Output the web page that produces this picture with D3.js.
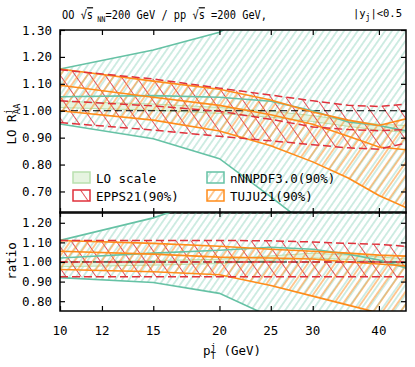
<!DOCTYPE html>
<html><head><meta charset="utf-8">
<script src="https://cdn.jsdelivr.net/npm/d3@7"></script>
<style>
html,body{margin:0;padding:0;background:#fff;}
text{font-family:"DejaVu Sans Mono",monospace;}
</style></head>
<body><svg id="c" width="415" height="367"></svg>
<script>
// ---------- data ----------
const pt = [10, 15, 20, 25, 30, 35, 40, 45];
// top panel: LO R^j_AA
const loUp   = [1.035, 1.025, 1.012, 0.998, 0.982, 0.963, 0.950, 0.945];
const loLo   = [1.012, 1.002, 0.990, 0.976, 0.960, 0.942, 0.928, 0.920];
const eppsUp = [1.152, 1.118, 1.084, 1.058, 1.037, 1.020, 1.016, 1.024];
const eppsC  = [1.037, 1.018, 0.998, 0.968, 0.940, 0.930, 0.926, 0.930];
const eppsLo = [0.956, 0.928, 0.905, 0.888, 0.874, 0.862, 0.857, 0.880];
const nnUp   = [1.155, 1.226, 1.292, 1.400, 1.500, 1.580, 1.650, 1.700];
const nnC    = [1.052, 1.056, 1.050, 1.035, 1.000, 0.958, 0.945, 0.925];
const nnLo   = [0.951, 0.896, 0.822, 0.680, 0.560, 0.450, 0.370, 0.320];
const tujuUp = [1.155, 1.110, 1.080, 1.040, 0.995, 0.965, 0.945, 0.970];
const tujuC  = [1.095, 1.050, 1.020, 0.985, 0.950, 0.905, 0.865, 0.855];
const tujuLo = [1.000, 0.965, 0.925, 0.870, 0.810, 0.750, 0.685, 0.640];
// bottom panel: ratio
const rLoUp   = [1.000, 1.007, 1.014, 1.031, 1.045, 1.035, 1.026, 1.016];
const rLoLo   = [0.976, 0.984, 0.992, 1.008, 1.021, 1.013, 1.002, 0.989];
const rEppsUp = [1.110, 1.110, 1.110, 1.108, 1.102, 1.095, 1.090, 1.080];
const rEppsC  = [1.000, 1.000, 1.000, 1.000, 1.000, 1.000, 1.000, 1.000];
const rEppsLo = [0.925, 0.925, 0.925, 0.925, 0.925, 0.925, 0.925, 0.925];
const rNnUp   = [1.110, 1.225, 1.340, 1.450, 1.600, 1.700, 1.780, 1.830];
const rNnC    = [1.020, 1.045, 1.060, 1.075, 1.065, 1.040, 1.010, 0.970];
const rNnLo   = [0.920, 0.895, 0.840, 0.720, 0.600, 0.500, 0.420, 0.360];
const rTujuUp = [1.110, 1.095, 1.080, 1.065, 1.055, 1.045, 1.035, 1.030];
const rTujuC  = [1.055, 1.040, 1.025, 1.020, 1.015, 1.000, 0.990, 0.980];
const rTujuLo = [0.962, 0.950, 0.935, 0.880, 0.826, 0.780, 0.740, 0.690];

const xTicks = [10, 12, 15, 20, 25, 30, 40];
const yTicksTop = [0.70, 0.80, 0.90, 1.00, 1.10, 1.20, 1.30];
const yTicksBot = [0.80, 0.90, 1.00, 1.10, 1.20];
const legendItems = ["LO scale", "EPPS21(90%)", "nNNPDF3.0(90%)", "TUJU21(90%)"];

// ---------- setup ----------
const C = {teal:"#66c2a5", red:"#e0313b", orange:"#ff8c1a", lo:"#e6f4e0", loS:"#b9e0ae"};
const svg = d3.select("#c");
const X0 = 60, X1 = 406;
const x = d3.scaleLog().domain([10, 45]).range([X0, X1]);
const yT = d3.scaleLinear().domain([0.62, 1.30]).range([213, 30]);
const yB = d3.scaleLinear().domain([0.75, 1.255]).range([311, 212]);

const defs = svg.append("defs");
function hatch(id, color, spacing, angle, sw, op) {
  const p = defs.append("pattern").attr("id", id).attr("patternUnits", "userSpaceOnUse")
    .attr("width", spacing).attr("height", 10).attr("patternTransform", `rotate(${angle})`);
  p.append("line").attr("x1", spacing/2).attr("x2", spacing/2).attr("y1", 0).attr("y2", 10)
    .attr("stroke", color).attr("stroke-width", sw).attr("stroke-opacity", op);
}
hatch("hN", C.teal, 5.6, 35, 0.9, 0.7);
hatch("hE", C.red, 12.3, -35, 1, 0.85);
hatch("hT", C.orange, 7.4, 35, 1, 0.9);

function panel(y, d, clipId, top) {
  const [y0, y1] = y.range();
  defs.append("clipPath").attr("id", clipId).append("rect")
    .attr("x", X0).attr("y", y1).attr("width", X1 - X0).attr("height", y0 - y1);
  const g = svg.append("g").attr("clip-path", `url(#${clipId})`);
  const area = (lo, hi) => d3.area().x((v, i) => x(pt[i])).y0((v, i) => y(lo[i])).y1((v, i) => y(hi[i]))(lo);
  const line = (arr) => d3.line().x((v, i) => x(pt[i])).y(v => y(v))(arr);
  g.append("path").attr("d", area(d.nnLo, d.nnUp)).attr("fill", "url(#hN)");
  g.append("path").attr("d", area(d.loLo, d.loUp)).attr("fill", C.lo).attr("stroke", C.loS).attr("stroke-width", 1);
  g.append("path").attr("d", area(d.eLo, d.eUp)).attr("fill", "url(#hE)");
  g.append("path").attr("d", area(d.tLo, d.tUp)).attr("fill", "url(#hT)");
  // reference line
  g.append("line").attr("x1", X0).attr("x2", X1).attr("y1", y(1)).attr("y2", y(1))
    .attr("stroke", "#000").attr("stroke-width", 1).attr("stroke-dasharray", "7,4");
  [d.nnLo, d.nnC, d.nnUp].forEach(a => g.append("path").attr("d", line(a)).attr("fill", "none")
    .attr("stroke", C.teal).attr("stroke-width", 1.6));
  [d.tLo, d.tC, d.tUp].forEach(a => g.append("path").attr("d", line(a)).attr("fill", "none")
    .attr("stroke", C.orange).attr("stroke-width", 1.6));
  [d.eLo, d.eC, d.eUp].forEach(a => g.append("path").attr("d", line(a)).attr("fill", "none")
    .attr("stroke", C.red).attr("stroke-width", 1.5).attr("stroke-dasharray", "8,4"));
  // axes with inside ticks on all sides
  const ax = svg.append("g");
  ax.append("g").attr("transform", `translate(0,${y0})`).call(d3.axisTop(x).tickValues(xTicks).tickSize(5).tickFormat(""));
  ax.append("g").attr("transform", `translate(0,${y1})`).call(d3.axisBottom(x).tickValues(xTicks).tickSize(5).tickFormat(""));
  const yt = top ? yTicksTop : yTicksBot;
  ax.append("g").attr("transform", `translate(${X0},0)`).call(d3.axisRight(y).tickValues(yt).tickSize(5).tickFormat(""));
  ax.append("g").attr("transform", `translate(${X1},0)`).call(d3.axisLeft(y).tickValues(yt).tickSize(5).tickFormat(""));
  ax.selectAll(".domain").remove();
  ax.selectAll("line").attr("stroke", "#000").attr("stroke-width", 1.2);
  yt.forEach(v => svg.append("text").attr("x", 52).attr("y", y(v) + 4.5).attr("text-anchor", "end")
    .attr("font-size", 12.5).text(d3.format(".2f")(v)));
  svg.append("rect").attr("x", X0).attr("y", y1).attr("width", X1 - X0).attr("height", y0 - y1)
    .attr("fill", "none").attr("stroke", "#000").attr("stroke-width", 1.5);
}
panel(yT, {loUp, loLo, eUp: eppsUp, eC: eppsC, eLo: eppsLo, nnUp, nnC, nnLo, tUp: tujuUp, tC: tujuC, tLo: tujuLo}, "cT", true);
panel(yB, {loUp: rLoUp, loLo: rLoLo, eUp: rEppsUp, eC: rEppsC, eLo: rEppsLo, nnUp: rNnUp, nnC: rNnC, nnLo: rNnLo, tUp: rTujuUp, tC: rTujuC, tLo: rTujuLo}, "cB", false);

// x tick labels
xTicks.forEach(v => svg.append("text").attr("x", x(v)).attr("y", 335).attr("text-anchor", "middle")
  .attr("font-size", 12.5).text(v));

// legend
const lg = [
  {t: legendItems[0], x: 73, y: 172, fill: C.lo, s: C.loS},
  {t: legendItems[1], x: 73, y: 190, fill: "url(#hE)", s: C.red},
  {t: legendItems[2], x: 207, y: 172, fill: "url(#hN)", s: C.teal},
  {t: legendItems[3], x: 207, y: 190, fill: "url(#hT)", s: C.orange}
];
lg.forEach(l => {
  svg.append("rect").attr("x", l.x).attr("y", l.y).attr("width", 17).attr("height", 11)
    .attr("fill", l.fill).attr("stroke", l.s).attr("stroke-width", 1.5);
  svg.append("text").attr("x", l.x + 23).attr("y", l.y + 11).attr("font-size", 12.5).text(l.t);
});

// title
const tt = svg.append("text").attr("transform", "translate(62,19) scale(0.86,1)").attr("font-size", 12);
tt.append("tspan").text("OO √");
tt.append("tspan").attr("text-decoration", "overline").text("s");
tt.append("tspan").attr("font-size", 8).attr("dy", 3).text(" NN");
tt.append("tspan").attr("dy", -3).text("=200 GeV / pp √");
tt.append("tspan").attr("text-decoration", "overline").text("s");
tt.append("tspan").text(" =200 GeV,");
const tr = svg.append("text").attr("x", 402).attr("y", 17).attr("font-size", 10.5).attr("text-anchor", "end");
tr.append("tspan").text("|y");
tr.append("tspan").attr("font-size", 8).attr("dy", 3).text("j");
tr.append("tspan").attr("dy", -3).text("|<0.5");

// axis titles
const yl = svg.append("text").attr("transform", "translate(16,124) rotate(-90)").attr("text-anchor", "middle").attr("font-size", 12.5);
yl.append("tspan").text("LO R");
yl.append("tspan").attr("font-size", 9).attr("dy", -5).text("j");
yl.append("tspan").attr("font-size", 9).attr("dx", -5.4).attr("dy", 9).text("AA");
svg.append("text").attr("transform", "translate(16,261) rotate(-90)").attr("text-anchor", "middle")
  .attr("font-size", 12.5).text("ratio");
const xl = svg.append("text").attr("x", 232).attr("y", 355).attr("text-anchor", "middle").attr("font-size", 12.5);
xl.append("tspan").text("p");
xl.append("tspan").attr("font-size", 9).attr("dy", -5).text("j");
xl.append("tspan").attr("font-size", 9).attr("dx", -5.4).attr("dy", 9).text("T");
xl.append("tspan").attr("dy", -4).text(" (GeV)");
</script></body></html>
